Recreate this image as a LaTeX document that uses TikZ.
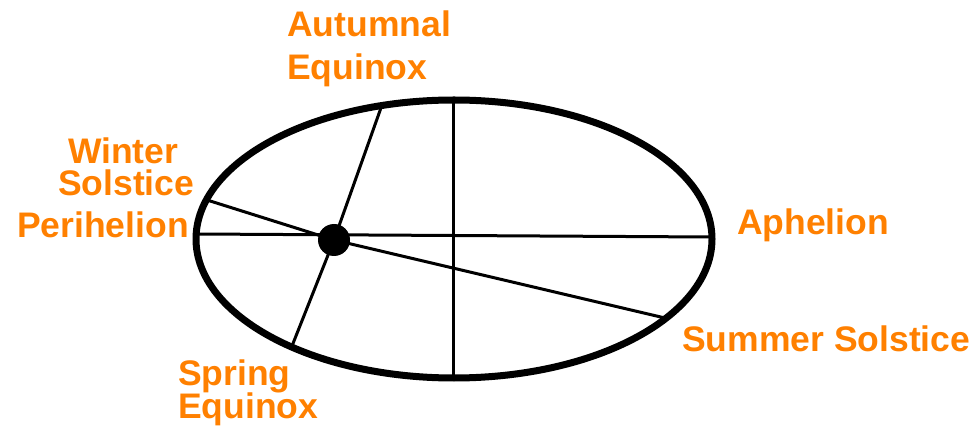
\documentclass[tikz,border=0pt]{standalone}
\usepackage{fontspec}
\setmainfont{Liberation Sans}
\definecolor{lblorange}{RGB}{255,128,0}
\begin{document}
\begin{tikzpicture}[x=1pt,y=-1pt,
  lbl/.style={text=lblorange, font=\fontsize{35.5}{35.5}\selectfont\bfseries, inner sep=0pt, anchor=base west},
  orbit/.style={line width=7pt},
  axisline/.style={line width=3pt}]
\useasboundingbox (0,0) rectangle (974,427);
% points
\coordinate (c) at (454,239);
\coordinate (peri) at (197,234);
\coordinate (aph) at (711,237);
\coordinate (top) at (453,100);
\coordinate (bot) at (453,378);
\coordinate (win) at (207,200);
\coordinate (sum) at (665,318);
\coordinate (aut) at (382,105);
\coordinate (spr) at (292,346);
\coordinate (sun) at (334,240);
% lines
\draw[axisline] (peri) -- (aph);
\draw[axisline] (top) -- (bot);
\draw[axisline] (win) -- (sun) -- (sum);
\draw[axisline] (aut) -- (sun) -- (spr);
% orbit
\draw[orbit] (c) ellipse [x radius=258pt, y radius=139pt];
% sun
\fill (sun) circle [radius=16pt];
% labels
\node[lbl] (autumn1) at (287,37) {Autumnal};
\node[lbl] (autumn2) at (287,80) {Equinox};
\node[lbl] (winter1) at (68,164) {Winter};
\node[lbl] (winter2) at (58,196) {Solstice};
\node[lbl] (perilbl) at (17,238) {Perihelion};
\node[lbl] (aphlbl) at (737,235) {Aphelion};
\node[lbl] (sumlbl) at (682,352) {Summer Solstice};
\node[lbl] (spring1) at (178,385) {Spring};
\node[lbl] (spring2) at (178,418) {Equinox};
\end{tikzpicture}
\end{document}
